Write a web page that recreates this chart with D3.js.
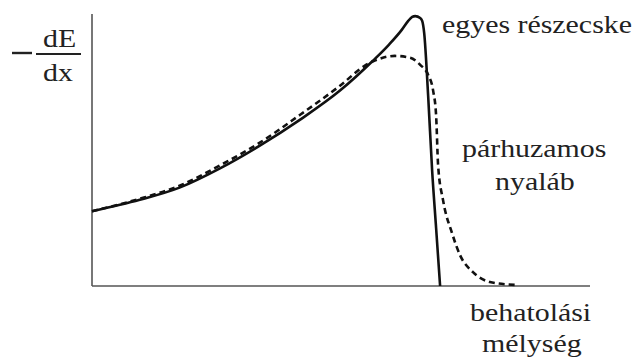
<!DOCTYPE html>
<html>
<head>
<meta charset="utf-8">
<script src="https://cdn.jsdelivr.net/npm/d3@7"></script>
</head>
<body style="margin:0">
<div id="chart"></div>
<script>
// Bragg-görbe: mélység (0-100) és -dE/dx (0-100) relatív egységekben
const singleDepth = [0, 9.6, 17.7, 25.7, 33.7, 41.8, 49.8, 56.4, 59.6, 62.2, 63.5, 64.3, 64.9, 65.9, 66.3, 66.7, 67.5, 68.3, 69.1, 69.9];
const singleLoss  = [27.6, 31.8, 36.4, 43.4, 51.8, 61.4, 72.1, 83.1, 89.0, 94.5, 97.8, 99.3, 99.6, 98.9, 97.8, 93.4, 70.2, 42.6, 21.3, 0];

const beamDepth = [0, 9.6, 17.7, 25.7, 33.7, 41.8, 49.8, 54.8, 57.2, 60.8, 63.9, 65.9, 67.5, 68.5, 69.1, 69.5, 70.5, 72.3, 73.9, 76.5, 79.9, 84.9];
const beamLoss  = [27.6, 32.2, 37.1, 44.5, 52.9, 63.2, 73.9, 81.3, 83.5, 84.9, 84.2, 81.6, 77.9, 72.1, 62.9, 44.5, 31.6, 19.5, 11.4, 5.1, 1.5, 0.4];

// feliratok: szöveg, bal szél, alapvonal
const labelTexts = ["egyes részecske", "párhuzamos", "nyaláb", "behatolási", "mélység", "dE", "dx"];
const labelX = [442, 462, 495, 470, 482, 43, 43];
const labelY = [33, 157, 190, 321, 352, 47, 81];

const width = 641, height = 361;

const svg = d3.select("#chart").append("svg")
  .attr("width", width)
  .attr("height", height);

const x = d3.scaleLinear().domain([0, 100]).range([92, 590]);
const y = d3.scaleLinear().domain([0, 100]).range([286, 15]);

// tengelyek (beosztás nélkül)
svg.append("line")
  .attr("x1", x(0)).attr("x2", x(0))
  .attr("y1", y(0)).attr("y2", y(100) - 1)
  .attr("stroke", "#555").attr("stroke-width", 1.6);
svg.append("line")
  .attr("x1", x(0)).attr("x2", x(100))
  .attr("y1", y(0)).attr("y2", y(0))
  .attr("stroke", "#555").attr("stroke-width", 1.6);

const line = d3.line()
  .x(d => x(d[0]))
  .y(d => y(d[1]))
  .curve(d3.curveMonotoneX);

svg.append("path")
  .datum(d3.zip(beamDepth, beamLoss))
  .attr("d", line)
  .attr("fill", "none")
  .attr("stroke", "#111")
  .attr("stroke-width", 2.6)
  .attr("stroke-dasharray", "6,4");

svg.append("path")
  .datum(d3.zip(singleDepth, singleLoss))
  .attr("d", line)
  .attr("fill", "none")
  .attr("stroke", "#111")
  .attr("stroke-width", 2.6);

// -dE/dx vonalai
svg.append("line")
  .attr("x1", 12).attr("x2", 32).attr("y1", 53).attr("y2", 53)
  .attr("stroke", "#222").attr("stroke-width", 2.4);
svg.append("line")
  .attr("x1", 36).attr("x2", 81).attr("y1", 54).attr("y2", 54)
  .attr("stroke", "#222").attr("stroke-width", 2.2);

// a betűk kissé szélesek, ezért vízszintes nyújtás
svg.selectAll("text.lbl")
  .data(labelTexts)
  .join("text")
  .attr("class", "lbl")
  .attr("transform", (d, i) => `translate(${labelX[i]},${labelY[i]}) scale(1.15,1)`)
  .attr("font-size", 26)
  .attr("fill", "#222")
  .style("font-family", "'Liberation Serif', 'Tinos', 'FreeSerif', monospace")
  .text(d => d);
</script>
</body>
</html>
